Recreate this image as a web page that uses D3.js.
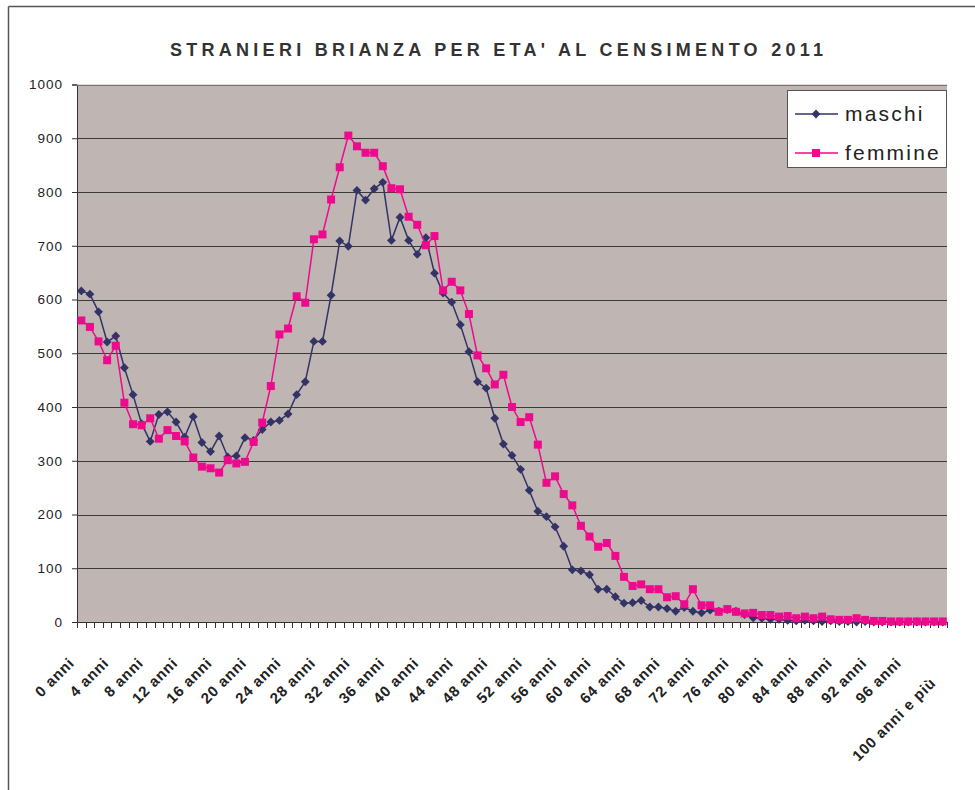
<!DOCTYPE html>
<html>
<head>
<meta charset="utf-8">
<script src="https://cdn.jsdelivr.net/npm/d3@7"></script>
<style>
  body { margin: 0; background: #fff; }
  svg { display: block; font-family: "Liberation Sans", Arial, sans-serif; }
</style>
</head>
<body>
<div id="chart"></div>
<script>
// eta' 0..100 ("100 anni e più" is the last class)
var ages = d3.range(0, 101).map(function(a){ return a === 100 ? "100 anni e più" : a + " anni"; });

var maschi = [616,610,577,521,532,473,423,369,336,386,391,372,344,382,334,317,346,307,309,343,
  338,358,372,375,387,423,447,522,522,608,709,699,803,785,806,818,710,753,710,684,
  715,649,612,595,553,503,447,435,379,331,310,284,245,206,196,177,141,97,95,88,
  61,61,47,35,36,40,28,28,25,20,27,20,17,22,20,23,20,14,8,7,
  5,5,3,2,3,2,1,2,1,1,0,1,0,0,0,0,0,0,0,0,0];

var femmine = [561,549,522,487,514,408,368,366,379,341,357,346,336,306,289,286,278,301,295,298,
  335,371,439,535,546,606,594,712,721,786,846,905,885,873,873,848,807,805,754,739,
  701,718,617,633,617,573,496,472,442,460,400,372,381,330,259,271,238,217,179,159,
  140,147,123,84,67,70,61,61,46,48,33,61,31,31,19,24,19,16,17,13,
  13,10,11,7,10,7,10,5,4,4,7,4,2,2,1,1,1,1,1,1,1];

var yTicks = [0,100,200,300,400,500,600,700,800,900,1000];
var seriesNames = ["maschi", "femmine"];
var colors = {maschi: "#333366", femmine: "#EE0A8C"};

var W = 975, H = 790;
var plot = {left: 77, right: 947, top: 84.5, bottom: 622};

var svg = d3.select("#chart").append("svg")
    .attr("width", W).attr("height", H);

// outer frame (only top & left edges visible in the crop)
svg.append("line").attr("x1", 8.5).attr("x2", W).attr("y1", 6.5).attr("y2", 6.5)
    .attr("stroke", "#555").attr("stroke-width", 1.5);
svg.append("line").attr("x1", 8.5).attr("x2", 8.5).attr("y1", 6.5).attr("y2", H)
    .attr("stroke", "#555").attr("stroke-width", 1.5);

svg.append("text")
    .attr("x", 170).attr("y", 56)
    .attr("textLength", 653).attr("lengthAdjust", "spacing")
    .attr("font-size", 18).attr("font-weight", "bold").attr("fill", "#333")
    .text("STRANIERI BRIANZA PER ETA' AL CENSIMENTO 2011");

var x = d3.scaleBand().domain(ages).range([plot.left, plot.right]).paddingInner(0).paddingOuter(0);
var y = d3.scaleLinear().domain([0, 1000]).range([plot.bottom, plot.top]);
var cx = function(i){ return x(ages[i]) + x.bandwidth() / 2; };

svg.append("rect")
    .attr("x", plot.left).attr("y", plot.top)
    .attr("width", plot.right - plot.left).attr("height", plot.bottom - plot.top)
    .attr("fill", "#BFB6B4");

// grid + y axis
var yAxis = d3.axisLeft(y).tickValues(yTicks).tickFormat(d3.format("d")).tickSize(5).tickPadding(9);
var gy = svg.append("g").attr("transform", "translate(" + plot.left + ",0)").call(yAxis);
gy.select(".domain").attr("stroke", "#333");
gy.selectAll(".tick line").attr("stroke", "#333");
gy.selectAll(".tick text").attr("font-size", 13.5).attr("fill", "#222")
    .attr("letter-spacing", 1).attr("font-family", "Liberation Sans, Arial, sans-serif");

svg.append("g").selectAll("line").data(yTicks.filter(function(d){ return d > 0; }))
    .enter().append("line")
    .attr("x1", plot.left).attr("x2", plot.right)
    .attr("y1", function(d){ return Math.round(y(d)) + 0.5; })
    .attr("y2", function(d){ return Math.round(y(d)) + 0.5; })
    .attr("stroke", function(d){ return d === 1000 ? "#7d7371" : "#3a3a3a"; })
    .attr("stroke-width", 1);

// x axis: Excel style ticks on category boundaries
var gx = svg.append("g").attr("class", "axis axis--x");
gx.append("line").attr("x1", plot.left).attr("x2", plot.right)
    .attr("y1", plot.bottom + 0.5).attr("y2", plot.bottom + 0.5).attr("stroke", "#333");
gx.selectAll(".tk").data(d3.range(0, ages.length + 1)).enter().append("line")
    .attr("class", "tk")
    .attr("x1", function(i){ return Math.round(plot.left + i * x.step()) + 0.5; })
    .attr("x2", function(i){ return Math.round(plot.left + i * x.step()) + 0.5; })
    .attr("y1", plot.bottom).attr("y2", plot.bottom + 6)
    .attr("stroke", "#333");

gx.selectAll(".lbl").data(ages.filter(function(d, i){ return i % 4 === 0; }))
    .enter().append("text")
    .attr("class", "lbl")
    .attr("text-anchor", "end")
    .attr("font-size", 15).attr("font-weight", "bold").attr("fill", "#222")
    .attr("letter-spacing", 0.8)
    .attr("transform", function(d){
        var i = ages.indexOf(d);
        var ty = i === 100 ? 684 : 664;
        return "translate(" + (cx(i) - 6) + "," + ty + ") rotate(-45)";
    })
    .text(function(d){ return d; });

// series
var line = d3.line()
    .x(function(d, i){ return cx(i); })
    .y(function(d){ return y(d); });

var diamond = d3.symbol().type(d3.symbolDiamond2).size(50);

var gM = svg.append("g").attr("class", "dataGroup");
gM.append("path").datum(maschi).attr("d", line)
    .attr("fill", "none").attr("stroke", colors.maschi).attr("stroke-width", 1.5);
gM.selectAll(".point").data(maschi).enter().append("path")
    .attr("class", "point")
    .attr("d", diamond)
    .attr("transform", function(d, i){ return "translate(" + cx(i) + "," + y(d) + ")"; })
    .attr("fill", colors.maschi);

var gF = svg.append("g").attr("class", "dataGroup");
gF.append("path").datum(femmine).attr("d", line)
    .attr("fill", "none").attr("stroke", colors.femmine).attr("stroke-width", 1.5);
gF.selectAll(".point").data(femmine).enter().append("rect")
    .attr("class", "point")
    .attr("x", function(d, i){ return cx(i) - 4; })
    .attr("y", function(d){ return y(d) - 4; })
    .attr("width", 8).attr("height", 8)
    .attr("fill", colors.femmine);

// legend
var legend = svg.append("g").attr("class", "legend");
legend.append("rect")
    .attr("x", 787.5).attr("y", 90.5).attr("width", 159).attr("height", 77)
    .attr("fill", "#fff").attr("stroke", "#555");
seriesNames.forEach(function(name, i){
    var ly = 114 + i * 39;
    var lg = legend.append("g").attr("class", "legendItem");
    lg.append("line").attr("x1", 795).attr("x2", 838).attr("y1", ly).attr("y2", ly)
        .attr("stroke", colors[name]).attr("stroke-width", 1.5);
    if (name === "maschi") {
        lg.append("path").attr("d", diamond).attr("transform", "translate(816," + ly + ")")
            .attr("fill", colors[name]);
    } else {
        lg.append("rect").attr("x", 812).attr("y", ly - 4).attr("width", 8).attr("height", 8)
            .attr("fill", colors[name]);
    }
    lg.append("text").attr("x", 845).attr("y", ly + 7)
        .attr("font-size", 21).attr("fill", "#222").attr("letter-spacing", 2.2)
        .text(name);
});
</script>
</body>
</html>
